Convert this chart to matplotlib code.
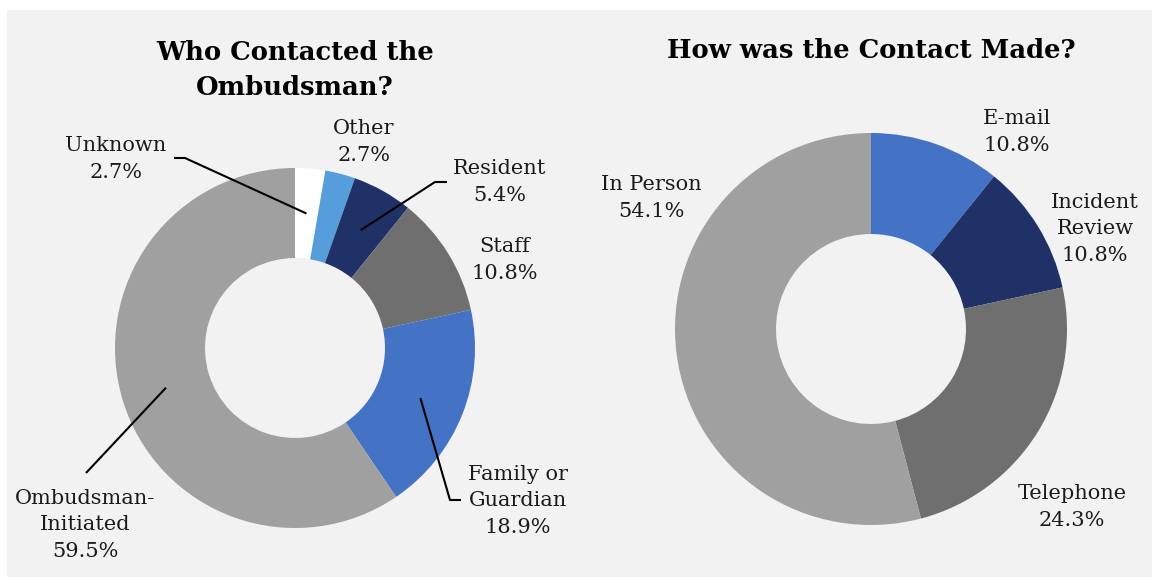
import matplotlib
matplotlib.use("Agg")
import matplotlib.pyplot as plt
import numpy as np
from matplotlib.patches import Rectangle

# Who contacted the ombudsman (percent of contacts)
who_labels = ["Unknown", "Other", "Resident", "Staff", "Family or\nGuardian", "Ombudsman-\nInitiated"]
who_pct = [2.7, 2.7, 5.4, 10.8, 18.9, 59.5]
who_colors = ["#ffffff", "#559ddb", "#203168", "#6f6f6f", "#4472c4", "#a0a0a0"]

# How the contact was made (percent of contacts)
how_labels = ["E-mail", "Incident\nReview", "Telephone", "In Person"]
how_pct = [10.8, 10.8, 24.3, 54.1]
how_colors = ["#4472c4", "#203168", "#6f6f6f", "#a0a0a0"]

W, H = 1152, 580
fig = plt.figure(figsize=(W / 100, H / 100), dpi=100, facecolor="white")
ax = fig.add_axes([0, 0, 1, 1])

# pixel-style coordinates: x to the right, y measured from the top
def py(y):
    return H - y

label_font = dict(family="DejaVu Serif", fontsize=15, color="#1a1a1a",
                  ha="center", va="center", linespacing=1.52)
title_font = dict(family="DejaVu Serif", fontsize=18.6, fontweight="bold",
                  color="black", ha="center", va="center", linespacing=1.5)


def donut(values, colors, cx, cy, r, hole):
    wedges, _ = ax.pie(values, colors=colors, center=(cx, py(cy)), radius=r,
                       startangle=90, counterclock=False,
                       wedgeprops=dict(width=r - hole, linewidth=0))
    return wedges


def slice_point(wedge, cx, cy, r):
    ang = np.deg2rad((wedge.theta1 + wedge.theta2) / 2)
    return cx + r * np.cos(ang), py(cy) + r * np.sin(ang)


ax.add_patch(Rectangle((7, py(577)), W - 7, 567, facecolor="#f2f2f2",
                       edgecolor="none", zorder=0))

# left donut
lcx, lcy = 295, 348
who_w = donut(who_pct, who_colors, lcx, lcy, 180, 90)
ax.text(lcx, py(70), "Who Contacted the\nOmbudsman?", **title_font)

who_pos = [(116, 159), (364, 142), (500, 182), (505, 260), (518, 501), (85, 525)]
for lab, v, (x, y) in zip(who_labels, who_pct, who_pos):
    ax.text(x, py(y), f"{lab}\n{v:.1f}%", **label_font)

# leader lines: label elbow -> middle of the slice
leaders = {
    0: [(174, 158), (185, 158)],
    2: [(447, 182), (435, 182)],
    4: [(461, 500), (450, 500)],
    5: [(86, 473)],
}
for i, pts in leaders.items():
    sx, sy = slice_point(who_w[i], lcx, lcy, 135)
    xs = [p[0] for p in pts] + [sx]
    ys = [py(p[1]) for p in pts] + [sy]
    ax.plot(xs, ys, color="black", lw=1.5, solid_capstyle="butt", zorder=5)

# right donut
rcx, rcy = 871, 329
donut(how_pct, how_colors, rcx, rcy, 196, 95)
ax.text(rcx, py(51), "How was the Contact Made?", **title_font)

how_pos = [(1017, 132), (1095, 229), (1072, 507), (651, 198)]
for lab, v, (x, y) in zip(how_labels, how_pct, how_pos):
    ax.text(x, py(y), f"{lab}\n{v:.1f}%", **label_font)

ax.set_xlim(0, W)
ax.set_ylim(0, H)
ax.set_aspect("auto")
ax.axis("off")

fig.savefig("out.png", dpi=100, facecolor="white")
